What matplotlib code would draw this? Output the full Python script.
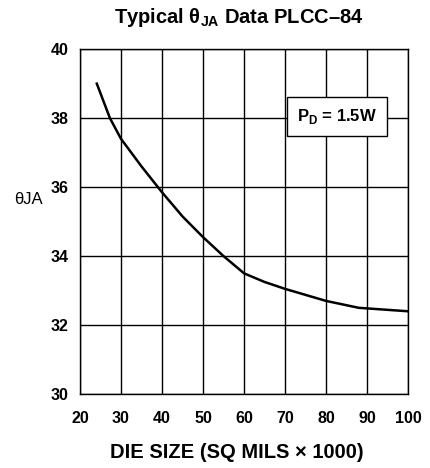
import matplotlib
matplotlib.use("Agg")
import matplotlib.pyplot as plt

# curve
die_size = [24.1, 27.3, 30, 35, 40, 45, 50, 55, 60, 65, 70, 80, 88, 100]
theta_ja = [39.0, 38.0, 37.4, 36.6, 35.85, 35.15, 34.55, 34.0, 33.5, 33.25, 33.05, 32.7, 32.5, 32.4]
xticks = [20, 30, 40, 50, 60, 70, 80, 90, 100]
yticks = [30, 32, 34, 36, 38, 40]

plt.rcParams['font.family'] = ['Liberation Sans', 'DejaVu Sans']
plt.rcParams['mathtext.fontset'] = 'custom'
plt.rcParams['mathtext.rm'] = 'Liberation Sans'
plt.rcParams['mathtext.bf'] = 'Liberation Sans:bold'

fig = plt.figure(figsize=(4.3, 4.68), dpi=100)
ax = fig.add_axes([0.186, 0.158, 0.763, 0.737])

ax.plot(die_size, theta_ja, color='black', linewidth=1.8)

ax.set_xlim(20, 100)
ax.set_ylim(30, 40)
ax.set_xticks(xticks)
ax.set_yticks(yticks)
ax.grid(True, color='black', linewidth=1.0)
ax.set_axisbelow(True)
ax.tick_params(length=0, labelsize=11.5)
ax.tick_params(axis='x', pad=12.5)
ax.tick_params(axis='y', pad=8)
for lab in ax.get_xticklabels() + ax.get_yticklabels():
    lab.set_fontweight('bold')
for s in ax.spines.values():
    s.set_linewidth(1.0)

ax.text(82.7, 38.06, r'P$_{\mathbf{D}}$ = 1.5W', ha='center', va='center',
        fontsize=12, fontweight='bold',
        bbox=dict(boxstyle='square,pad=0.6', facecolor='white', edgecolor='black', linewidth=1.0))

fig.text(0.556, 0.962, r'Typical $\mathbf{\theta_{JA}}$ Data PLCC–84', ha='center', va='center',
         fontsize=14.5, fontweight='bold')
fig.text(0.067, 0.573, 'θJA', ha='center', va='center', fontsize=12)
fig.text(0.55, 0.034, 'DIE SIZE (SQ MILS × 1000)', ha='center', va='center',
         fontsize=14.5, fontweight='bold')

fig.savefig('out.png', dpi=100)
